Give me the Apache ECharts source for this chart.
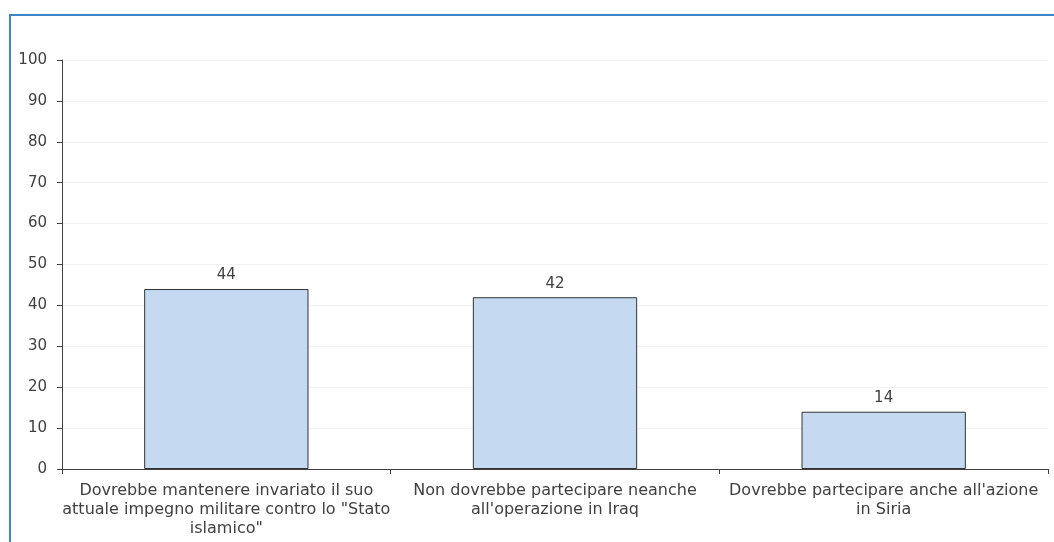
<!DOCTYPE html>
<html><head><meta charset="utf-8">
<script src="https://cdn.jsdelivr.net/npm/echarts@6/dist/echarts.min.js"></script>
<style>
html,body{margin:0;padding:0;background:#fff;overflow:hidden}
#frame{position:absolute;left:9px;top:14px;width:1100px;height:600px;border-top:2px solid #3f86c6;border-left:2px solid #3f86c6;box-sizing:border-box}
#c{position:absolute;left:0;top:0;width:1054px;height:542px}
</style></head>
<body>
<div id="frame"></div>
<div id="c"></div>
<script>
const categories = [
  'Dovrebbe mantenere invariato il suo\nattuale impegno militare contro lo "Stato\nislamico"',
  'Non dovrebbe partecipare neanche\nall\'operazione in Iraq',
  'Dovrebbe partecipare anche all\'azione\nin Siria'
];
const values = [44, 42, 14];
const yTicks = {min: 0, max: 100, interval: 10};
const font = '"DejaVu Sans", sans-serif';
const chart = echarts.init(document.getElementById('c'), null, {renderer: 'canvas'});
chart.setOption({
  animation: false,
  backgroundColor: 'transparent',
  grid: {left: 62, right: 6, top: 60, bottom: 73, containLabel: false},
  xAxis: {
    type: 'category',
    data: categories,
    axisLine: {lineStyle: {color: '#404040', width: 1}},
    axisTick: {show: true, length: 5, lineStyle: {color: '#404040'}},
    axisLabel: {interval: 0, color: '#404040', fontFamily: font, fontSize: 16, lineHeight: 19, margin: 12}
  },
  yAxis: {
    type: 'value',
    min: yTicks.min, max: yTicks.max, interval: yTicks.interval,
    axisLine: {show: true, lineStyle: {color: '#404040', width: 1}},
    axisTick: {show: true, length: 5, lineStyle: {color: '#404040'}},
    axisLabel: {color: '#404040', fontFamily: font, fontSize: 15, margin: 15},
    splitLine: {show: true, lineStyle: {color: '#f2f2f2', width: 1}}
  },
  series: [{
    type: 'bar',
    data: values,
    barWidth: '50%',
    itemStyle: {color: '#c5daf0', borderColor: '#333', borderWidth: 1},
    label: {show: true, position: 'top', color: '#404040', fontFamily: font, fontSize: 15, distance: 6}
  }]
});
</script>
</body></html>
